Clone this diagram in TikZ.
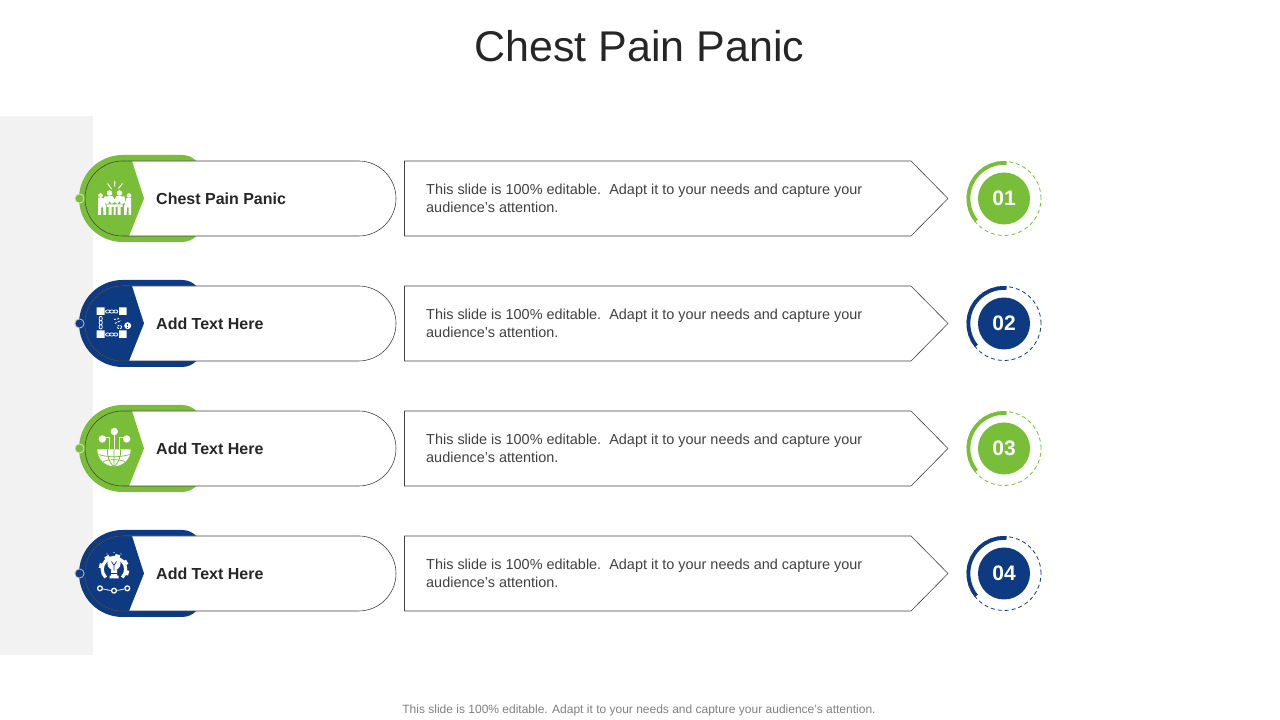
\documentclass[tikz,border=0pt]{standalone}
\usepackage{fontspec}
\setmainfont[Ligatures=ResetAll]{Liberation Sans}
\definecolor{leaf}{HTML}{78BE38}
\definecolor{navy}{HTML}{0E3A82}
\definecolor{strip}{HTML}{F2F2F2}
\definecolor{inkdark}{HTML}{262626}
\definecolor{inkbody}{HTML}{404040}
\definecolor{inkfoot}{HTML}{7F7F7F}
\tikzset{
    rowline/.style={draw=inkbody, line width=0.6pt},
    bodytext/.style={anchor=west, align=left, inner sep=0pt, text=inkbody, font=\fontsize{14.45}{18}\selectfont},
    labeltext/.style={anchor=west, inner sep=0pt, text=inkdark, font=\bfseries\fontsize{16}{18}\selectfont},
    numcircle/.style={circle, minimum size=52pt, inner sep=0pt, text=white, font=\bfseries\fontsize{21}{24}\selectfont},
    iconline/.style={draw=white, line width=1pt},
}
\begin{document}
\begin{tikzpicture}[x=1pt, y=1pt, line join=round]
    \useasboundingbox (0,0) rectangle (1280,720);
    \fill[strip] (0,65) rectangle (93,604);
    \node[text=inkdark, font=\fontsize{43}{48}\selectfont] (title) at (639.5,674) {Chest Pain Panic};
    \node[text=inkfoot, font=\fontsize{12}{14}\selectfont] (footer) at (639,9.5) {This slide is 100\% editable. Adapt it to your needs and capture your audience's attention.};
    \foreach \cy/\by/\rowcol/\num/\lab in {521.5/0/leaf/01/Chest Pain Panic, 396.5/0/navy/02/Add Text Here, 271.5/-0.5/leaf/03/Add Text Here, 146.5/-0.5/navy/04/Add Text Here}{
        \begin{scope}[shift={(0,\cy)}]
            % outer band and the pill on top of it
            \fill[\rowcol] (122.5,43.5) arc (90:270:43.5) -- (182,-43.5) arc (-90:0:20) -- (202,23.5) arc (0:90:20) -- cycle;
            \fill[white] (122.5,37.5) -- (358.5,37.5) arc (90:-90:37.5) -- (122.5,-37.5) arc (270:90:37.5) -- cycle;
            \fill[\rowcol] (132,37.5) -- (122.5,37.5) arc (90:270:37.5) -- (129,-37.5) -- (144,0) -- cycle;
            \draw[rowline] (122.5,37.5) -- (358.5,37.5) arc (90:-90:37.5) -- (122.5,-37.5) arc (270:90:37.5) -- cycle;
            \fill[\rowcol, draw=white!70!\rowcol, line width=0.8pt] (79.5,0) circle (4.6);
            \node[labeltext] (label\num) at (156,\by) {\lab};
            % text arrow
            \draw[rowline] (404.5,37.5) -- (911,37.5) -- (948,0) -- (911,-37.5) -- (404.5,-37.5) -- cycle;
            \node[bodytext] (body\num) at (426,0.5+\by) {This slide is 100\% editable.\ \ Adapt it to your needs and capture your\\audience's attention.};
            % number ring
            \draw[\rowcol, line width=0.8pt, dash pattern=on 4pt off 3pt] (1004,0) circle (37);
            \draw[\rowcol, line width=3.8pt] (1006.5,35.5) arc (86:219:35.6);
            \node[numcircle, fill=\rowcol] (num\num) at (1004,0) {\num};
        \end{scope}
    }
    % people round a table
    \begin{scope}[shift={(114.5,521.5)}]
        \draw[iconline] (-7,15) -- (-3,9.5) (0.5,17.5) -- (0,12) (8,15) -- (4,10);
        \fill[white] (-5,5.5) circle (2.8) (5,5.5) circle (2.8) (-14,3) circle (2.3) (14.5,3) circle (2.3);
        \fill[white] (-16.5,0.5) -- (-11,0.5) -- (-8.5,-8) -- (-8.5,-16.5) -- (-11,-16.5) -- (-11.5,-9) -- (-13.5,-9) -- (-13.5,-16.5) -- (-16.5,-16.5) -- cycle;
        \fill[white] (16.5,0.5) -- (12,0.5) -- (9.5,-8) -- (9.5,-16.5) -- (12,-16.5) -- (12.5,-9) -- (14,-9) -- (14,-16.5) -- (16.5,-16.5) -- cycle;
        \fill[white] (-10,2) -- (-2,2.5) -- (0,-1) -- (2,2.5) -- (10,2) -- (11,-4) -- (6.5,-6) -- (5,-2.5) -- (3,-5.5) -- (0,-3.5) -- (-3,-5.5) -- (-5,-2.5) -- (-6.5,-6) -- (-11,-4) -- cycle;
        \fill[white] (-8,-6) rectangle (8,-8.5) (-6,-8.5) rectangle (-3,-16.5) (3,-8.5) rectangle (6,-16.5) (-1,-8.5) rectangle (1,-16.5);
    \end{scope}
    % squares joined by chains
    \begin{scope}[shift={(112,396.5)}]
        \fill[white] (-15.3,8.5) rectangle (-7.3,16) (7,8.5) rectangle (14.5,16) (-15.3,-14.5) rectangle (-7.3,-7) (7,-14.5) rectangle (14.5,-7);
        \draw[white, line width=0.8pt] (-4.3,12) ellipse (2.2 and 1.6) (-0.2,12) ellipse (2.2 and 1.6) (3.8,12) ellipse (2 and 1.6);
        \draw[white, line width=0.8pt] (-4.3,-11) ellipse (2.2 and 1.6) (-0.2,-11) ellipse (2.2 and 1.6) (3.8,-11) ellipse (2 and 1.6);
        \draw[white, line width=0.8pt] (-11.3,5) ellipse (1.6 and 2.2) (-11.3,0.8) ellipse (1.6 and 2.2) (-11.3,-3.4) ellipse (1.6 and 2.2);
        \draw[white, line width=0.9pt, dash pattern=on 2pt off 1.2pt] (2,4) -- (8,5) (3,0) -- (9,3) (7.5,-3.5) ellipse (2.2 and 1.7);
        \fill[white] (15.7,-2.2) circle (3.5);
        \draw[navy, line width=0.9pt] (15.7,-0.2) -- (15.7,-2.6) (15.7,-3.5) -- (15.7,-4.3);
    \end{scope}
    % globe with three nodes
    \begin{scope}[shift={(114,271.5)}]
        \fill[white] (-16.7,-1) -- (16.7,-1) arc (0:-180:16.7) -- cycle;
        \draw[leaf, line width=0.7pt] (-15.5,-6) .. controls (-6,-9) and (6,-9) .. (15.5,-6) (-11,-13) .. controls (-4,-10.5) and (4,-10.5) .. (11,-13) (0,-1) -- (0,-18) (-6.5,-1) .. controls (-7,-8) and (-5,-13) .. (-1,-17.5) (6.5,-1) .. controls (7,-8) and (5,-13) .. (1,-17.5);
        \fill[white] (0.3,17) circle (3.7) (-11.7,9.5) circle (3.7) (12.7,9.5) circle (3.7);
        \draw[iconline] (0.3,15) -- (0.3,-1) (-9,11) -- (-4.5,11) -- (-4.5,-1) (10,11) -- (5,11) -- (5,-1);
    \end{scope}
    % gear with a bulb
    \begin{scope}[shift={(114,146.5)}]
        \draw[white, line width=3.2pt] (-8.3,-4) arc (225:-45:11.7);
        \foreach \ang in {-15,30,...,195}{
            \fill[white, shift={(0,4.2)}, rotate=\ang] (11.5,-2.4) rectangle (15.2,2.4);
        }
        \fill[white] (0,10) circle (6.6);
        \fill[white] (-3,4) rectangle (3,-2) (-4.5,-2.2) rectangle (4.5,-5);
        \draw[navy, line width=0.7pt] (-2.5,12) -- (0,8) -- (2.5,12) (0,8) -- (0,3) (-3,0) -- (3,0);
        \fill[white] (-7,19.5) circle (0.7) (0,21) circle (0.7) (7,19.5) circle (0.7);
        \draw[white, line width=1.3pt] (-14,-14.8) circle (2.4) (0,-17.2) circle (2.4) (13.3,-14.8) circle (2.4);
        \draw[white, line width=0.8pt] (-10.8,-15.5) -- (-3.4,-17) (3.4,-17) -- (10.2,-15.5);
    \end{scope}
\end{tikzpicture}
\end{document}
